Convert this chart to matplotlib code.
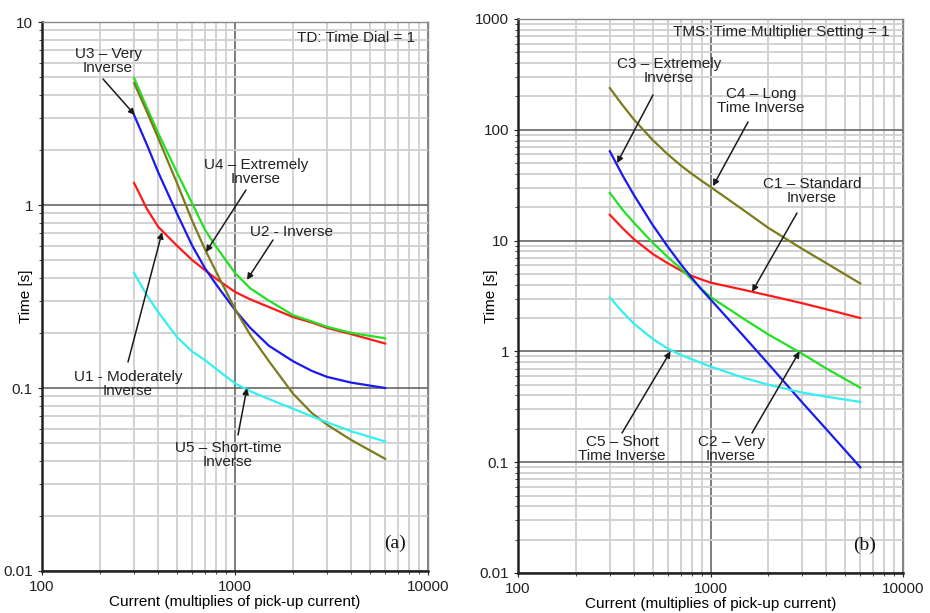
import matplotlib
matplotlib.use("Agg")
import matplotlib.pyplot as plt
from matplotlib.ticker import LogLocator, NullFormatter, FixedLocator, FixedFormatter

plt.rcParams['font.family'] = ['Liberation Sans', 'DejaVu Sans']

# ---------------- data ----------------
# (a) IEEE / US curves, TD = 1
current_a     = [300, 350, 400, 500, 600, 700, 800, 1000, 1200, 1500, 2000, 2500, 3000, 4000, 6000]
u1_moderately = [1.32, 0.95, 0.76, 0.60, 0.50, 0.44, 0.395, 0.335, 0.305, 0.277, 0.244, 0.228, 0.213, 0.197, 0.175]
u2_inverse    = [4.94, 3.39, 2.47, 1.51, 1.02, 0.73, 0.59, 0.425, 0.35, 0.30, 0.25, 0.231, 0.216, 0.20, 0.187]
u3_very       = [3.10, 2.13, 1.51, 0.90, 0.60, 0.45, 0.367, 0.267, 0.213, 0.17, 0.14, 0.124, 0.115, 0.107, 0.100]
u4_extremely  = [4.64, 3.22, 2.32, 1.32, 0.82, 0.57, 0.43, 0.27, 0.195, 0.14, 0.093, 0.073, 0.063, 0.052, 0.041]
u5_short      = [0.425, 0.32, 0.26, 0.19, 0.158, 0.142, 0.127, 0.106, 0.096, 0.087, 0.077, 0.070, 0.065, 0.058, 0.051]

# (b) IEC curves, TMS = 1
current_b     = [300, 350, 400, 500, 600, 700, 800, 900, 1000, 1500, 2000, 3000, 4000, 6000]
c1_standard   = [17.1, 12.9, 10.3, 7.6, 6.24, 5.38, 4.8, 4.45, 4.18, 3.58, 3.2, 2.72, 2.4, 2.0]
c2_very       = [26.9, 18.9, 14.5, 9.6, 7.1, 5.6, 4.45, 3.65, 3.1, 1.95, 1.42, 0.95, 0.70, 0.47]
c3_extremely  = [64.0, 38.5, 25.8, 13.9, 8.8, 6.15, 4.6, 3.6, 2.95, 1.35, 0.77, 0.345, 0.198, 0.09]
c4_long       = [238.0, 166.0, 124.0, 81.0, 60.0, 47.8, 40.0, 34.6, 30.5, 18.6, 13.0, 8.4, 6.25, 4.1]
c5_short      = [3.06, 2.26, 1.78, 1.30, 1.06, 0.93, 0.85, 0.785, 0.73, 0.575, 0.50, 0.425, 0.39, 0.35]

x_ticks = [100, 1000, 10000]
x_ticklabels = ['100', '1000', '10000']
ya_ticks = [0.01, 0.1, 1, 10]
ya_ticklabels = ['0.01', '0.1', '1', '10']
yb_ticks = [0.01, 0.1, 1, 10, 100, 1000]
yb_ticklabels = ['0.01', '0.1', '1', '10', '100', '1000']

RED = '#ff1a1a'
GREEN = '#22e022'
BLUE = '#1a1aee'
OLIVE = '#7d7a1c'
CYAN = '#33f0f0'

W, H = 930, 613
fig = plt.figure(figsize=(W / 100, H / 100), dpi=100)


def fpos(px, py):
    return (px / W, 1 - py / H)


def setup(ax, yticks, yticklabels, ylim, ylabel_x):
    ax.set_xscale('log')
    ax.set_yscale('log')
    ax.set_xlim(100, 10000)
    ax.set_ylim(*ylim)
    ax.xaxis.set_major_locator(FixedLocator(x_ticks))
    ax.xaxis.set_major_formatter(FixedFormatter(x_ticklabels))
    ax.yaxis.set_major_locator(FixedLocator(yticks))
    ax.yaxis.set_major_formatter(FixedFormatter(yticklabels))
    ax.xaxis.set_minor_locator(LogLocator(base=10, subs=range(2, 10)))
    ax.yaxis.set_minor_locator(LogLocator(base=10, subs=range(2, 10)))
    ax.xaxis.set_minor_formatter(NullFormatter())
    ax.yaxis.set_minor_formatter(NullFormatter())
    ax.grid(which='minor', color='#cfcfcf', lw=1.3)
    ax.grid(which='major', color='#5a5a5a', lw=1.1)
    ax.set_axisbelow(True)
    ax.tick_params(which='both', labelsize=11, colors='#222', length=3)
    ax.tick_params(which='minor', length=2)
    for s in ['top', 'right']:
        ax.spines[s].set_color('#888888')
        ax.spines[s].set_linewidth(1.0)
    for s in ['left', 'bottom']:
        ax.spines[s].set_color('#222222')
        ax.spines[s].set_linewidth(1.8)
    ax.set_xlabel('Current (multiplies of pick-up current)', fontsize=11, labelpad=1)
    ax.set_ylabel('Time [s]', fontsize=11)
    ax.yaxis.set_label_coords(ylabel_x, 0.5)


def arrow(ax, start_px, tip_xy):
    ax.annotate('', xy=tip_xy, xycoords='data',
                xytext=fpos(*start_px), textcoords='figure fraction',
                arrowprops=dict(arrowstyle='-|>', color='#1a1a1a', lw=1.1,
                                mutation_scale=9, shrinkA=0, shrinkB=0))


def label(text, px, py, ha='center', size=11):
    fig.text(*fpos(px, py), text, ha=ha, va='center', fontsize=size,
             color='#222', linespacing=1.05)


# ---------------- panel (a) ----------------
axa = fig.add_axes([42 / W, 1 - 571 / H, (428 - 42) / W, (571 - 22) / H])
setup(axa, ya_ticks, ya_ticklabels, (0.01, 10), (33 - 42) / 386)
axa.plot(current_a, u1_moderately, color=RED, lw=1.6)
axa.plot(current_a, u2_inverse, color=GREEN, lw=1.6)
axa.plot(current_a, u3_very, color=BLUE, lw=1.6)
axa.plot(current_a, u4_extremely, color=OLIVE, lw=1.6)
axa.plot(current_a, u5_short, color=CYAN, lw=1.6)

label('TD: Time Dial = 1', 415, 38, ha='right')
label('U3 \u2013 Very\nInverse', 108, 61)
arrow(axa, (103, 79), (303, 3.1))
label('U4 \u2013 Extremely\nInverse', 256, 172)
arrow(axa, (246, 190), (707, 0.553))
label('U2 - Inverse', 292, 232)
arrow(axa, (273, 240), (1153, 0.39))
label('U1 - Moderately\nInverse', 128, 384)
arrow(axa, (128, 362), (419, 0.71))
label('U5 \u2013 Short-time\nInverse', 228, 455)
arrow(axa, (238, 435), (1153, 0.10))
fig.text(*fpos(395, 543), '(a)', ha='center', va='center', fontsize=14,
         family=['Liberation Serif', 'DejaVu Serif'], color='#111')

# ---------------- panel (b) ----------------
axb = fig.add_axes([518 / W, 1 - 573 / H, (903 - 518) / W, (573 - 19) / H])
setup(axb, yb_ticks, yb_ticklabels, (0.01, 1000), (498 - 518) / 385)
axb.plot(current_b, c1_standard, color=RED, lw=1.6)
axb.plot(current_b, c2_very, color=GREEN, lw=1.6)
axb.plot(current_b, c3_extremely, color=BLUE, lw=1.6)
axb.plot(current_b, c4_long, color=OLIVE, lw=1.6)
axb.plot(current_b, c5_short, color=CYAN, lw=1.6)

label('TMS: Time Multiplier Setting = 1', 890, 32, ha='right')
label('C3 \u2013 Extremely\nInverse', 669, 71)
arrow(axb, (653, 95), (327, 50))
label('C4 \u2013 Long\nTime Inverse', 761, 101)
arrow(axb, (748, 122), (1030, 31))
label('C1 \u2013 Standard\nInverse', 812, 191)
arrow(axb, (797, 213), (1644, 3.45))
label('C5 \u2013 Short\nTime Inverse', 622, 449)
arrow(axb, (622, 433), (620, 1.0))
label('C2 \u2013 Very\nInverse', 731, 449)
arrow(axb, (752, 433), (2900, 1.0))
fig.text(*fpos(865, 545), '(b)', ha='center', va='center', fontsize=14,
         family=['Liberation Serif', 'DejaVu Serif'], color='#111')

fig.savefig('out.png', dpi=100, facecolor='white')
